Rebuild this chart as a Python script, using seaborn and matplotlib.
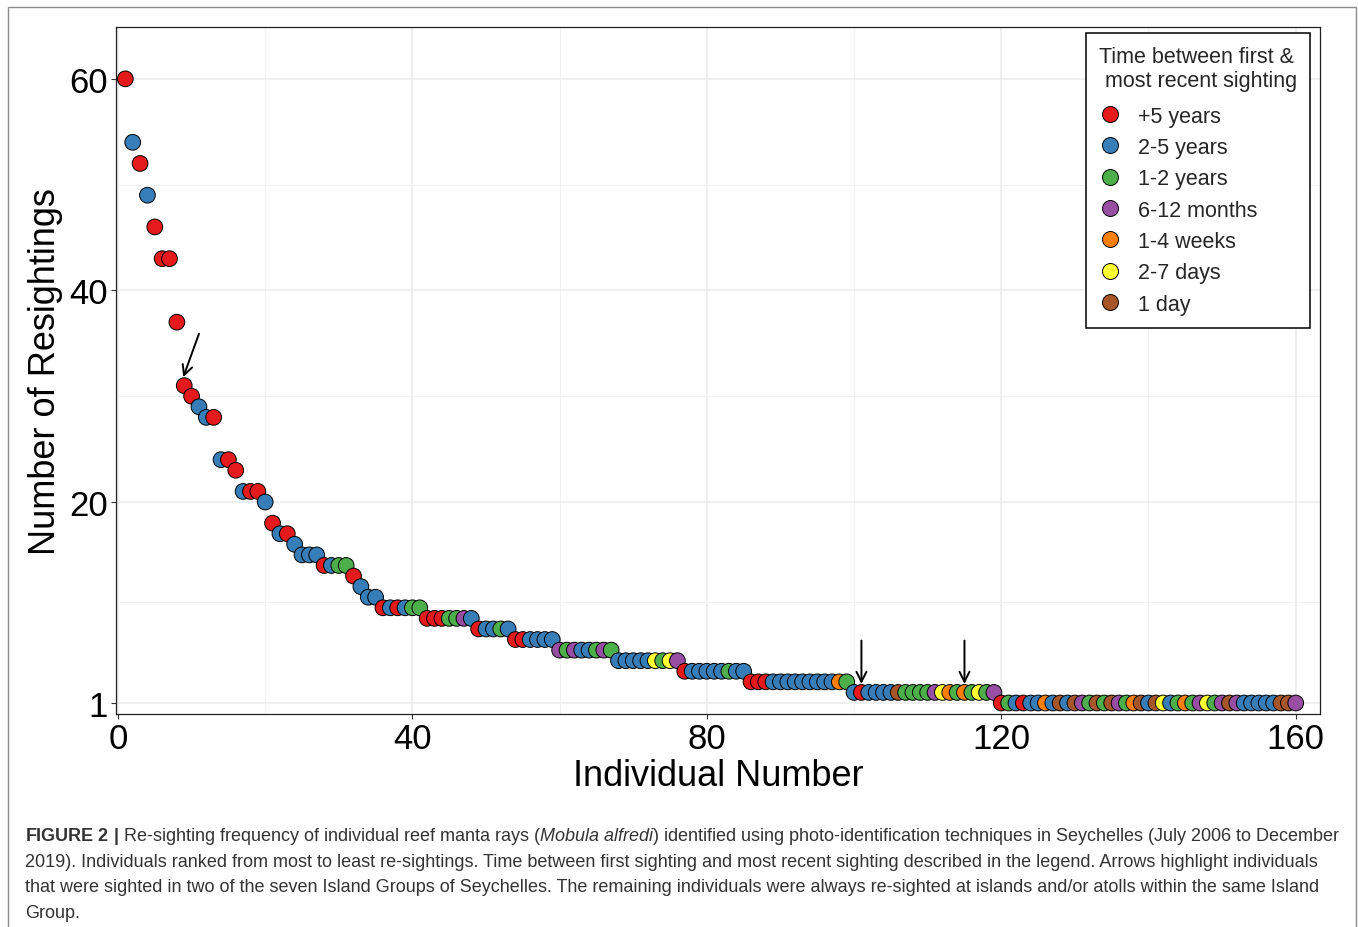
import matplotlib
matplotlib.use("Agg")
import matplotlib.pyplot as plt
from matplotlib.lines import Line2D
from matplotlib.patches import Rectangle
import seaborn as sns
import pandas as pd

# ---- data -------------------------------------------------------------
individual = list(range(1, 161))

resightings = [
    60, 54, 52, 49, 46, 43, 43, 37, 31, 30, 29, 28, 28,
    24, 24, 23, 21, 21, 21, 20, 18, 17, 17, 16, 15, 15, 15,
    14, 14, 14, 14, 13, 12, 11, 11,
    10, 10, 10, 10, 10, 10,
    9, 9, 9, 9, 9, 9, 9,
    8, 8, 8, 8, 8,
    7, 7, 7, 7, 7, 7,
    6, 6, 6, 6, 6, 6, 6, 6,
    5, 5, 5, 5, 5, 5, 5, 5, 5,
    4, 4, 4, 4, 4, 4, 4, 4, 4,
    3, 3, 3, 3, 3, 3, 3, 3, 3, 3, 3, 3, 3, 3,
    2, 2, 2, 2, 2, 2, 2, 2, 2, 2, 2, 2, 2, 2, 2, 2, 2, 2, 2, 2,
    1, 1, 1, 1, 1, 1, 1, 1, 1, 1, 1, 1, 1, 1, 1, 1, 1, 1, 1, 1,
    1, 1, 1, 1, 1, 1, 1, 1, 1, 1, 1, 1, 1, 1, 1, 1, 1, 1, 1, 1, 1,
]

# time between first and most recent sighting, one code per individual
period_codes = [
    "R", "B", "R", "B", "R", "R", "R", "R", "R", "R", "B", "B", "R",
    "B", "R", "R", "B", "R", "R", "B", "R", "B", "R", "B", "B", "B", "B",
    "R", "B", "G", "G", "R", "B", "B", "B",
    "R", "B", "R", "B", "G", "G",
    "R", "R", "R", "G", "G", "P", "B",
    "R", "B", "B", "G", "B",
    "R", "R", "B", "B", "B", "B",
    "P", "G", "P", "B", "B", "G", "P", "G",
    "B", "B", "B", "B", "B", "Y", "G", "Y", "P",
    "R", "B", "B", "B", "B", "B", "G", "B", "B",
    "R", "R", "R", "B", "B", "B", "B", "B", "B", "B", "B", "B", "O", "G",
    "B", "R", "B", "B", "B", "B", "N", "G", "G", "G",
    "G", "P", "Y", "O", "G", "O", "G", "Y", "G", "P",
    "R", "G", "B", "R", "B", "B", "O", "B", "N", "B",
    "N", "P", "G", "N", "G", "N", "P", "G", "O", "N",
    "B", "N", "Y", "B", "G", "O", "G", "P", "Y", "G",
    "P", "N", "P", "B", "B", "B", "B", "B", "N", "N",
    "P",
]

period_labels = {
    "R": "+5 years", "B": "2-5 years", "G": "1-2 years", "P": "6-12 months",
    "O": "1-4 weeks", "Y": "2-7 days", "N": "1 day",
}
period_order = ["+5 years", "2-5 years", "1-2 years", "6-12 months",
                "1-4 weeks", "2-7 days", "1 day"]
period_colors = ["#E41A1C", "#377EB8", "#4DAF4A", "#984EA3",
                 "#FF7F00", "#FFFF33", "#A65628"]

# individuals sighted in two Island Groups
two_groups = [9, 101, 115]

x_ticks = [0, 40, 80, 120, 160]
y_ticks = [1, 20, 40, 60]

df = pd.DataFrame({
    "Individual Number": individual,
    "Number of Resightings": resightings,
    "period": [period_labels[c] for c in period_codes],
})

# ---- styling ----------------------------------------------------------
sns.set_theme(style="white")
plt.rcParams["font.family"] = ["Liberation Sans", "DejaVu Sans"]
plt.rcParams["mathtext.fontset"] = "custom"
plt.rcParams["mathtext.rm"] = "Liberation Sans"
plt.rcParams["mathtext.it"] = "Liberation Sans:italic"
plt.rcParams["mathtext.bf"] = "Liberation Sans:bold"

W, H = 1358, 928
fig = plt.figure(figsize=(W / 100, H / 100), dpi=100)
fig.patch.set_facecolor("white")
ax = fig.add_axes([116 / W, 1 - 715 / H, (1320 - 116) / W, (715 - 28) / H])

palette = dict(zip(period_order, period_colors))
sns.scatterplot(
    data=df, x="Individual Number", y="Number of Resightings",
    hue="period", hue_order=period_order, palette=palette,
    s=128, edgecolor="black", linewidth=0.7, legend=False, ax=ax, zorder=3,
)

ax.set_xlim(-0.27, 163.3)
ax.set_ylim(-0.04, 64.9)
ax.set_xticks(x_ticks)
ax.set_yticks(y_ticks)
ax.set_xticks([20, 60, 100, 140], minor=True)
ax.set_yticks([10.5, 30, 50], minor=True)
ax.grid(True, which="major", color="#EBEBEB", linewidth=1.1, zorder=0)
ax.grid(True, which="minor", color="#F2F2F2", linewidth=0.8, zorder=0)
ax.set_axisbelow(True)
ax.tick_params(axis="both", which="major", labelsize=25, length=3.5,
               width=0.8, color="#333333", pad=2.5, labelcolor="black",
               direction="out", bottom=True, left=True)
ax.tick_params(axis="both", which="minor", length=0)
for sp in ax.spines.values():
    sp.set_color("#222222")
    sp.set_linewidth(0.9)
ax.set_xlabel("Individual Number", fontsize=26, color="black", labelpad=2)
ax.set_ylabel("Number of Resightings", fontsize=26, color="black", labelpad=4)

# arrows pointing at the individuals seen in two Island Groups
for idx in two_groups:
    val = resightings[idx - 1]
    dx = 2.0 if idx == two_groups[0] else 0.0
    ax.annotate(
        "", xy=(idx - 0.13 if dx else idx, val + 0.8),
        xytext=(idx + dx, val + 4.9),
        arrowprops=dict(arrowstyle="->", color="black", lw=1.4,
                        mutation_scale=18, shrinkA=0, shrinkB=0),
        zorder=5,
    )

# legend
handles = [
    Line2D([], [], linestyle="", marker="o", markersize=11.5,
           markerfacecolor=c, markeredgecolor="black", markeredgewidth=0.7)
    for c in period_colors
]
leg = ax.legend(
    handles, period_order, title="Time between first &\n most recent sighting",
    loc="upper right", bbox_to_anchor=(1310 / W, 1 - 34 / H),
    bbox_transform=fig.transFigure, borderaxespad=0, fontsize=15.5,
    title_fontsize=15.5, frameon=True, fancybox=False, edgecolor="black",
    framealpha=1, handlelength=1.0, handletextpad=0.8, labelspacing=0.48,
    borderpad=0.6, alignment="left",
)
leg._legend_box.sep = 0.48 * 15.5 + 3.0
leg.get_frame().set_linewidth(1.1)

# figure frame and caption
fig.add_artist(Rectangle((8 / W, -0.01), (1356 - 8) / W, (928 - 8) / H + 0.01,
                         transform=fig.transFigure, fill=False,
                         edgecolor="#8c8c8c", linewidth=1.0))

caption_lines = [
    r"$\mathbf{FIGURE\ 2\ |}$ Re-sighting frequency of individual reef manta rays "
    r"($\mathit{Mobula\ alfredi}$) identified using photo-identification techniques "
    r"in Seychelles (July 2006 to December",
    "2019). Individuals ranked from most to least re-sightings. Time between first "
    "sighting and most recent sighting described in the legend. Arrows highlight individuals",
    "that were sighted in two of the seven Island Groups of Seychelles. The remaining "
    "individuals were always re-sighted at islands and/or atolls within the same Island",
    "Group.",
]
for k, line in enumerate(caption_lines):
    fig.text(25 / W, 1 - (837 + 25.4 * k) / H, line, fontsize=13.0,
             color="#333333", ha="left", va="center")

fig.savefig("out.png", dpi=100)
